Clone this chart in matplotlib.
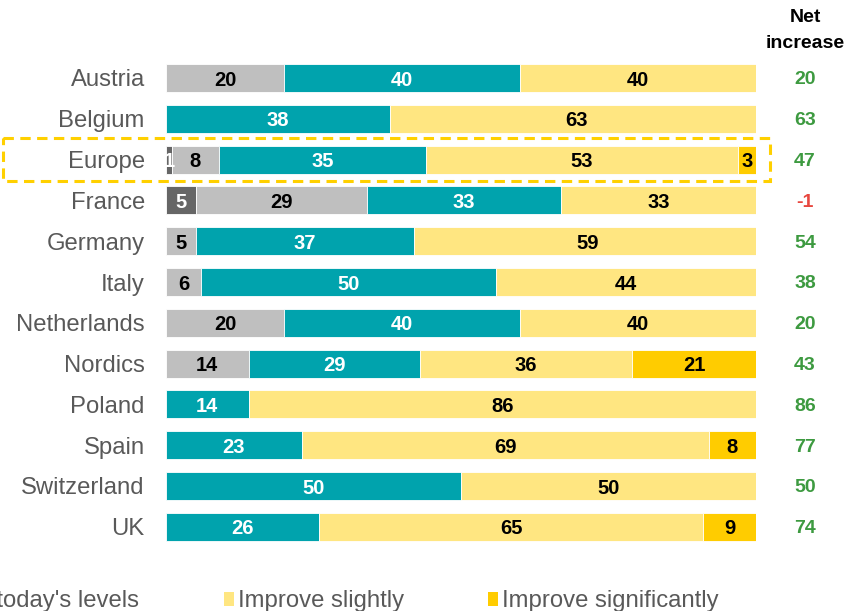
import matplotlib
matplotlib.use("Agg")
import matplotlib.pyplot as plt
from matplotlib.patches import Rectangle

plt.rcParams['font.family'] = ['Liberation Sans', 'DejaVu Sans']

countries = ["Austria", "Belgium", "Europe", "France", "Germany", "Italy",
             "Netherlands", "Nordics", "Poland", "Spain", "Switzerland", "UK"]
deteriorate_sig = [0, 0, 1, 5, 0, 0, 0, 0, 0, 0, 0, 0]
deteriorate_sl = [20, 0, 8, 29, 5, 6, 20, 14, 0, 0, 0, 0]
remain = [40, 38, 35, 33, 37, 50, 40, 29, 14, 23, 50, 26]
improve_sl = [40, 63, 53, 33, 59, 44, 40, 36, 86, 69, 50, 65]
improve_sig = [0, 0, 3, 0, 0, 0, 0, 21, 0, 8, 0, 9]
net_increase = [20, 63, 47, -1, 54, 38, 20, 43, 86, 77, 50, 74]

series_names = ["Deteriorate significantly", "Deteriorate slightly",
                "Remain at today's levels", "Improve slightly",
                "Improve significantly"]
series = [deteriorate_sig, deteriorate_sl, remain, improve_sl, improve_sig]
colors = ["#666666", "#bfbfbf", "#00a3ad", "#ffe681", "#ffcc00"]
text_colors = ["white", "black", "white", "black", "black"]
highlight = "Europe"

W, H = 848, 611
fig = plt.figure(figsize=(W / 100, H / 100), dpi=100)

# axes placed in pixel terms: bars span x 166..756, rows 78..527
row_px = 40.8
top_px = 78 - row_px / 2
ax = fig.add_axes([166 / W, (H - (top_px + 12 * row_px)) / H,
                   590 / W, 12 * row_px / H])
ax.set_xlim(0, 100)
ax.set_ylim(11.5, -0.5)
ax.axis("off")

ypos = list(range(len(countries)))
left = [0] * len(countries)
for vals, col, tcol in zip(series, colors, text_colors):
    ax.barh(ypos, vals, left=left, height=0.69, color=col,
            edgecolor="white", linewidth=0.6)
    for i, v in enumerate(vals):
        if v > 0:
            ax.text(left[i] + v / 2, i, str(v), ha="center",
                    va="center_baseline", fontsize=14.5, fontweight="bold",
                    color=tcol)
    left = [l + v for l, v in zip(left, vals)]

gray_lbl = "#595959"
for i, name in enumerate(countries):
    ax.text(-3.6, i, name, ha="right", va="center_baseline", fontsize=17.2,
            color=gray_lbl)
    n = net_increase[i]
    ax.text(108.3, i, str(n), ha="center", va="center_baseline", fontsize=14,
            fontweight="bold", color="#3d9a40" if n >= 0 else "#e8473f")

# header above the net column
fig.text(805 / W, 1 - 16 / H, "Net", ha="center", va="center_baseline",
         fontsize=14, fontweight="bold", color="black")
fig.text(805 / W, 1 - 41 / H, "increase", ha="center", va="center_baseline",
         fontsize=14, fontweight="bold", color="black")

# dashed frame around the highlighted row
hi = countries.index(highlight)
ax.add_patch(Rectangle((-27.6, hi - 0.53), 130.0, 1.06, fill=False,
                       edgecolor="#ffd000", linewidth=2.2,
                       linestyle=(0, (3.4, 2.1)), clip_on=False))

# legend along the bottom
ly = 1 - 599 / H
legend_items = [
    (-560, series_names[0]),
    (-330, series_names[1]),
    (-133, series_names[2]),
    (224, series_names[3]),
    (488, series_names[4]),
]
for (mx, name), col in zip(legend_items, colors):
    fig.patches.append(Rectangle((mx / W, (H - 606) / H), 10 / W, 14 / H,
                                 facecolor=col, edgecolor="none",
                                 transform=fig.transFigure, figure=fig))
    fig.text((mx + 14) / W, ly, name, ha="left", va="center_baseline",
             fontsize=17.2, color=gray_lbl)

fig.savefig("out.png", dpi=100)
